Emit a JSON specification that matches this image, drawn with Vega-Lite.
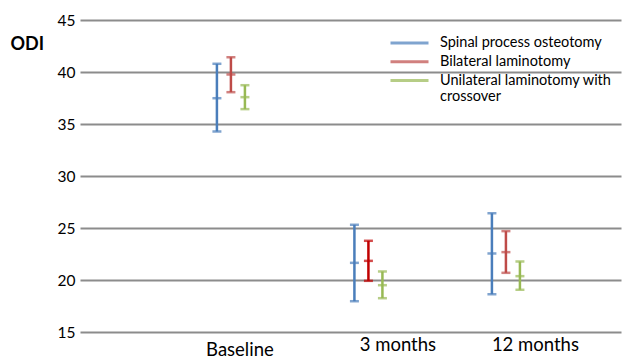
{
  "$schema": "https://vega.github.io/schema/vega-lite/v6.json",
  "width": 541,
  "height": 312,
  "autosize": "none",
  "padding": {"left": 80, "top": 20, "right": 3, "bottom": 26},
  "config": {"view": {"stroke": null}, "font": "Lato"},
  "data": {
    "values": [
      {"time": "Baseline", "group": "Spinal process osteotomy", "lo": 34.28, "mean": 37.48, "hi": 40.79},
      {"time": "Baseline", "group": "Bilateral laminotomy", "lo": 38.06, "mean": 39.76, "hi": 41.42},
      {"time": "Baseline", "group": "Unilateral laminotomy with crossover", "lo": 36.43, "mean": 37.58, "hi": 38.73},
      {"time": "3 months", "group": "Spinal process osteotomy", "lo": 17.96, "mean": 21.65, "hi": 25.31},
      {"time": "3 months", "group": "Bilateral laminotomy", "lo": 19.92, "mean": 21.84, "hi": 23.77},
      {"time": "3 months", "group": "Unilateral laminotomy with crossover", "lo": 18.25, "mean": 19.5, "hi": 20.82},
      {"time": "12 months", "group": "Spinal process osteotomy", "lo": 18.63, "mean": 22.55, "hi": 26.42},
      {"time": "12 months", "group": "Bilateral laminotomy", "lo": 20.69, "mean": 22.68, "hi": 24.7},
      {"time": "12 months", "group": "Unilateral laminotomy with crossover", "lo": 19.06, "mean": 20.37, "hi": 21.78}
    ]
  },
  "encoding": {
    "x": {
      "field": "time",
      "type": "nominal",
      "sort": ["Baseline", "3 months", "12 months"],
      "scale": {"paddingInner": 0.6945, "paddingOuter": 0.8145, "align": 0.58},
      "axis": {
        "title": null,
        "domain": false,
        "ticks": false,
        "grid": false,
        "labelAngle": 0,
        "labelFontSize": 18.5,
        "labelColor": "#000000",
        "labelBaseline": "top",
        "labelOffset": {"condition": {"test": "datum.value == 'Baseline'", "value": 9}, "value": 29.5},
        "labelPadding": {"condition": {"test": "datum.value == 'Baseline'", "value": 8}, "value": 3}
      }
    },
    "xOffset": {
      "field": "group",
      "type": "nominal",
      "sort": ["Spinal process osteotomy", "Bilateral laminotomy", "Unilateral laminotomy with crossover"],
      "scale": {"paddingInner": 0, "paddingOuter": 0}
    },
    "color": {
      "condition": {"test": "datum.time == '3 months' && datum.group == 'Bilateral laminotomy'", "value": "#C00000"},
      "field": "group",
      "type": "nominal",
      "sort": ["Spinal process osteotomy", "Bilateral laminotomy", "Unilateral laminotomy with crossover"],
      "scale": {"range": ["#4A7EBB", "#BE4B48", "#98B954"]},
      "legend": {
        "orient": "none",
        "legendX": 318.5,
        "legendY": 12,
        "title": null,
        "padding": 0,
        "symbolType": "M-2,0H2",
        "symbolSize": 361,
        "symbolStrokeWidth": 3,
        "labelOffset": 19.5,
        "rowPadding": 0.8,
        "labelFontSize": 14.5,
        "labelColor": "#000000",
        "labelLimit": 300,
        "labelExpr": "datum.label == 'Unilateral laminotomy with crossover' ? ['Unilateral laminotomy with', 'crossover'] : datum.label"
      }
    }
  },
  "layer": [
    {
      "mark": {"type": "rule", "strokeWidth": 2.5},
      "encoding": {
        "y": {
          "field": "lo",
          "type": "quantitative",
          "scale": {"domain": [15, 45], "nice": false, "zero": false},
          "axis": {
            "title": "ODI",
            "titleAngle": 0,
            "titleFontWeight": "bold",
            "titleFontSize": 18,
            "titleColor": "#000000",
            "titleAlign": "left",
            "titleBaseline": "middle",
            "titleX": -70,
            "titleY": 24.5,
            "values": [15, 20, 25, 30, 35, 40, 45],
            "domain": false,
            "ticks": false,
            "labelPadding": 5,
            "labelFontSize": 15.5,
            "labelColor": "#000000",
            "gridColor": "#8C8C8C",
            "gridWidth": 1.8,
            "gridOpacity": 1
          }
        },
        "y2": {"field": "hi"}
      }
    },
    {
      "transform": [{"fold": ["lo", "mean", "hi"], "as": ["stat", "v"]}],
      "mark": {"type": "tick", "size": 9, "thickness": 2.5},
      "encoding": {
        "y": {"field": "v", "type": "quantitative"}
      }
    }
  ]
}
